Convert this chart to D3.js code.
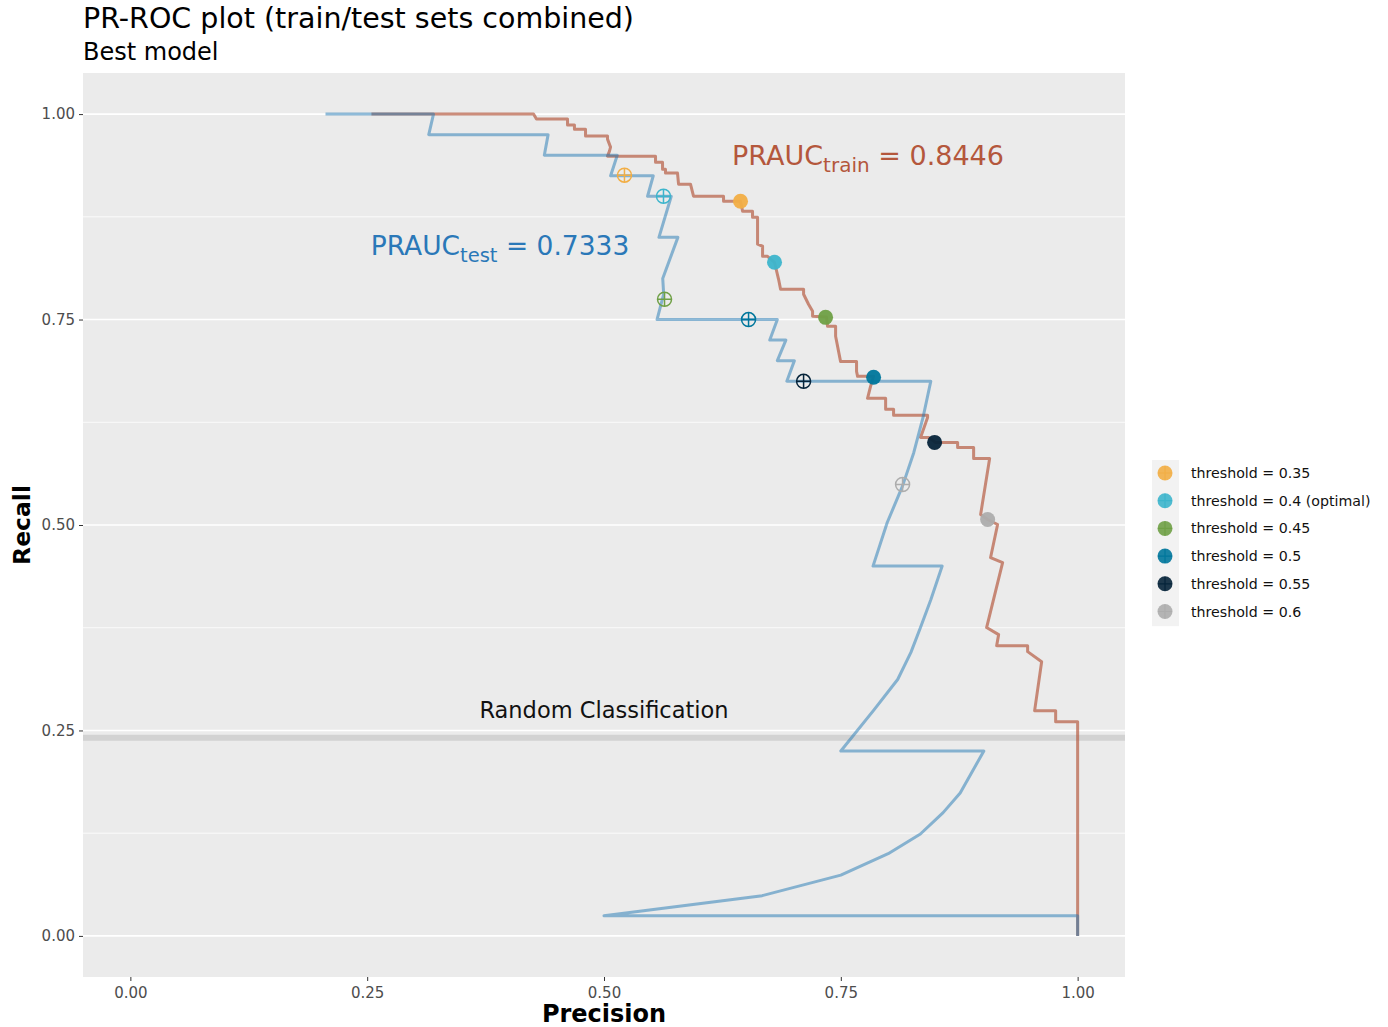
<!DOCTYPE html>
<html>
<head>
<meta charset="utf-8">
<script src="https://cdn.jsdelivr.net/npm/d3@7"></script>
<style>
  body { margin: 0; background: #ffffff; }
  svg text { font-family: "DejaVu Sans", sans-serif; }
</style>
</head>
<body>
<div id="chart"></div>
<script>
// test set PR curve (precision, recall)
var testPrecision = [0.206, 0.320, 0.315, 0.441, 0.437, 0.514, 0.507, 0.552, 0.546, 0.571, 0.558, 0.578,
	0.562, 0.563, 0.556, 0.683, 0.675, 0.692, 0.683, 0.701, 0.693, 0.845, 0.837, 0.827, 0.815, 0.799,
	0.784, 0.857, 0.845, 0.834, 0.824, 0.810, 0.785, 0.750, 0.901, 0.876, 0.858, 0.834, 0.800, 0.750,
	0.667, 0.500, 1.000, 1.000];
var testRecall = [1.000, 1.000, 0.975, 0.975, 0.950, 0.950, 0.925, 0.925, 0.900, 0.900, 0.850, 0.850,
	0.800, 0.781, 0.750, 0.750, 0.725, 0.725, 0.700, 0.700, 0.675, 0.675, 0.632, 0.588, 0.547, 0.503,
	0.450, 0.450, 0.409, 0.375, 0.345, 0.312, 0.275, 0.225, 0.225, 0.174, 0.150, 0.124, 0.100, 0.074,
	0.049, 0.0244, 0.0244, 0.000];

// train set PR curve (precision, recall)
var trainPrecision = [0.2545, 0.4256, 0.4287, 0.4615, 0.4615, 0.4688, 0.4688, 0.4805, 0.4805, 0.5037,
	0.5037, 0.5069, 0.5058, 0.5037, 0.5544, 0.5544, 0.5618, 0.5618, 0.5649, 0.5649, 0.5776, 0.5787,
	0.5913, 0.5945, 0.6262, 0.6262, 0.6441, 0.6463, 0.6568, 0.6568, 0.6621, 0.6621, 0.6674, 0.6674,
	0.6726, 0.6800, 0.6843, 0.6864, 0.7107, 0.7107, 0.7159, 0.7202, 0.7202, 0.7349, 0.7360, 0.7445,
	0.7445, 0.7497, 0.7666, 0.7666, 0.7677, 0.7846, 0.7814, 0.7782, 0.7973, 0.7973, 0.8057, 0.8057,
	0.8416, 0.8416, 0.8342, 0.8427, 0.8501, 0.8733, 0.8733, 0.8902, 0.8902, 0.9071, 0.8976, 0.9050,
	0.9155, 0.9081, 0.9208, 0.9039, 0.9166, 0.9145, 0.9472, 0.9472, 0.9620, 0.9546, 0.9768, 0.9768,
	1.000, 1.000];
var trainRecall = [1.000, 1.000, 0.9939, 0.9939, 0.9866, 0.9866, 0.9817, 0.9817, 0.9732, 0.9732,
	0.9695, 0.9598, 0.9549, 0.9488, 0.9488, 0.9415, 0.9415, 0.9330, 0.9330, 0.9282, 0.9282, 0.9147,
	0.9147, 0.9001, 0.9001, 0.8940, 0.8940, 0.8819, 0.8819, 0.8745, 0.8745, 0.8417, 0.8392, 0.8270,
	0.8270, 0.8197, 0.7990, 0.7868, 0.7868, 0.7808, 0.7686, 0.7600, 0.7540, 0.7530, 0.7418, 0.7418,
	0.7296, 0.6991, 0.6991, 0.6869, 0.6809, 0.6809, 0.6687, 0.6541, 0.6541, 0.6407, 0.6407, 0.6334,
	0.6334, 0.6309, 0.6066, 0.6066, 0.6005, 0.6005, 0.5944, 0.5944, 0.5810, 0.5810, 0.5128, 0.5067,
	0.5006, 0.4604, 0.4543, 0.3752, 0.3666, 0.3532, 0.3532, 0.3459, 0.3337, 0.2741, 0.2741, 0.2607,
	0.2607, 0.000];

// threshold points
var thresholds = ['0.35', '0.4 (optimal)', '0.45', '0.5', '0.55', '0.6'];
var thresholdColors = ['#F2AE45', '#3DB5CC', '#6FA046', '#00779C', '#06243A', '#ADADAD'];
var trainPtPrecision = [0.6441, 0.6800, 0.7339, 0.7846, 0.8490, 0.9050];
var trainPtRecall = [0.8940, 0.8197, 0.7527, 0.6797, 0.6005, 0.5067];
var testPtPrecision = [0.5216, 0.5628, 0.5639, 0.6526, 0.7107, 0.8152];
var testPtRecall = [0.9257, 0.9000, 0.7747, 0.7500, 0.6748, 0.5493];

var randomLevel = 0.241;
var xTicks = [0, 0.25, 0.5, 0.75, 1];
var yTicks = [0, 0.25, 0.5, 0.75, 1];
var yMinor = [0.125, 0.375, 0.625, 0.875];

var width = 1388, height = 1027;
var margin = {top: 73, right: 263, bottom: 50, left: 83};

var svg = d3.select('#chart')
	.append('svg')
	.attr('width', width)
	.attr('height', height);

var x = d3.scaleLinear()
	.domain([-0.05, 1.05])
	.range([margin.left, width - margin.right]);
var y = d3.scaleLinear()
	.domain([-0.05, 1.05])
	.range([height - margin.bottom, margin.top]);

// panel
svg.append('rect')
	.attr('x', margin.left)
	.attr('y', margin.top)
	.attr('width', x.range()[1] - x.range()[0])
	.attr('height', y.range()[0] - y.range()[1])
	.attr('fill', '#EBEBEB');

// grid, horizontal only
svg.append('g').selectAll('line.minor')
	.data(yMinor).enter().append('line')
	.attr('x1', x.range()[0]).attr('x2', x.range()[1])
	.attr('y1', function (d) { return y(d); })
	.attr('y2', function (d) { return y(d); })
	.attr('stroke', '#ffffff').attr('stroke-width', 0.8);
svg.append('g').selectAll('line.major')
	.data(yTicks).enter().append('line')
	.attr('x1', x.range()[0]).attr('x2', x.range()[1])
	.attr('y1', function (d) { return y(d); })
	.attr('y2', function (d) { return y(d); })
	.attr('stroke', '#ffffff').attr('stroke-width', 1.6);

// axes
var xAxis = svg.append('g')
	.attr('transform', 'translate(0,' + (height - margin.bottom) + ')')
	.call(d3.axisBottom(x).tickValues(xTicks).tickFormat(d3.format('.2f')).tickSize(4).tickPadding(6));
var yAxis = svg.append('g')
	.attr('transform', 'translate(' + margin.left + ',0)')
	.call(d3.axisLeft(y).tickValues(yTicks).tickFormat(d3.format('.2f')).tickSize(4).tickPadding(4));
[xAxis, yAxis].forEach(function (g) {
	g.select('.domain').remove();
	g.selectAll('line').attr('stroke', '#333333').attr('stroke-width', 1);
	g.selectAll('text').attr('fill', '#4D4D4D').style('font-size', '15px');
});

// random classification line
svg.append('line')
	.attr('x1', x.range()[0]).attr('x2', x.range()[1])
	.attr('y1', y(randomLevel)).attr('y2', y(randomLevel))
	.attr('stroke', '#D2D2D2').attr('stroke-width', 6);
svg.append('text')
	.attr('x', x(0.5)).attr('y', y(randomLevel) - 20)
	.attr('text-anchor', 'middle')
	.style('font-size', '22.5px')
	.attr('fill', '#111111')
	.text('Random Classification');

var line = d3.line()
	.x(function (d) { return x(d[0]); })
	.y(function (d) { return y(d[1]); });

var testData = d3.zip(testPrecision, testRecall);
var trainData = d3.zip(trainPrecision, trainRecall);

svg.append('path')
	.datum(trainData)
	.attr('fill', 'none')
	.attr('stroke', '#B4573C')
	.attr('stroke-opacity', 0.68)
	.attr('stroke-width', 3)
	.attr('stroke-linejoin', 'round')
	.attr('d', line);
svg.append('path')
	.datum(testData)
	.attr('fill', 'none')
	.attr('stroke', '#1F77B4')
	.attr('stroke-opacity', 0.5)
	.attr('stroke-width', 3)
	.attr('stroke-linejoin', 'round')
	.attr('d', line);

// test points: hollow circle with cross
var testPts = svg.append('g').selectAll('g')
	.data(thresholds).enter().append('g')
	.attr('transform', function (d, i) {
		return 'translate(' + x(testPtPrecision[i]) + ',' + y(testPtRecall[i]) + ')';
	});
testPts.append('circle')
	.attr('r', 7)
	.attr('fill', 'none')
	.attr('stroke', function (d, i) { return thresholdColors[i]; })
	.attr('stroke-width', 1.5);
testPts.append('path')
	.attr('d', 'M-7,0H7M0,-7V7')
	.attr('stroke', function (d, i) { return thresholdColors[i]; })
	.attr('stroke-width', 1.5);

// train points: filled
svg.append('g').selectAll('circle')
	.data(thresholds).enter().append('circle')
	.attr('cx', function (d, i) { return x(trainPtPrecision[i]); })
	.attr('cy', function (d, i) { return y(trainPtRecall[i]); })
	.attr('r', 7.5)
	.attr('fill', function (d, i) { return thresholdColors[i]; })
	.attr('fill-opacity', 0.95);

// PRAUC labels
var testLabel = svg.append('text')
	.attr('x', 500).attr('y', 255)
	.attr('text-anchor', 'middle')
	.attr('fill', '#2A78B8')
	.style('font-size', '26.5px');
testLabel.append('tspan').text('PRAUC');
testLabel.append('tspan').attr('dy', 7).style('font-size', '19.5px').text('test');
testLabel.append('tspan').attr('dy', -7).text(' = 0.7333');

var trainLabel = svg.append('text')
	.attr('x', 868).attr('y', 165)
	.attr('text-anchor', 'middle')
	.attr('fill', '#B4573C')
	.style('font-size', '27px');
trainLabel.append('tspan').text('PRAUC');
trainLabel.append('tspan').attr('dy', 7).style('font-size', '20px').text('train');
trainLabel.append('tspan').attr('dy', -7).text(' = 0.8446');

// titles
svg.append('text')
	.attr('x', margin.left).attr('y', 28)
	.style('font-size', '28.5px')
	.attr('fill', '#000000')
	.text('PR-ROC plot (train/test sets combined)');
svg.append('text')
	.attr('x', margin.left).attr('y', 60)
	.style('font-size', '24px')
	.attr('fill', '#000000')
	.text('Best model');

svg.append('text')
	.attr('x', x(0.5)).attr('y', 1022)
	.attr('text-anchor', 'middle')
	.style('font-size', '24px').style('font-weight', 'bold')
	.text('Precision');
svg.append('text')
	.attr('transform', 'translate(30,' + y(0.5) + ') rotate(-90)')
	.attr('text-anchor', 'middle')
	.style('font-size', '23.5px').style('font-weight', 'bold')
	.text('Recall');

// legend
var legendTop = 460, legendStep = 27.7;
svg.append('rect')
	.attr('x', 1152).attr('y', legendTop)
	.attr('width', 27).attr('height', legendStep * thresholds.length)
	.attr('fill', '#F2F2F2');
var legendItems = svg.append('g').selectAll('g')
	.data(thresholds).enter().append('g')
	.attr('transform', function (d, i) {
		return 'translate(1165,' + (legendTop + 13 + i * legendStep) + ')';
	});
legendItems.append('circle')
	.attr('r', 7.5)
	.attr('fill', function (d, i) { return thresholdColors[i]; })
	.attr('fill-opacity', 0.9);
legendItems.append('path')
	.attr('d', 'M-7,0H7M0,-7V7')
	.attr('stroke', function (d, i) { return thresholdColors[i]; })
	.attr('stroke-width', 1.2);
legendItems.append('text')
	.attr('x', 26).attr('y', 5)
	.style('font-size', '14.2px')
	.attr('fill', '#111111')
	.text(function (d) { return 'threshold = ' + d; });
</script>
</body>
</html>
